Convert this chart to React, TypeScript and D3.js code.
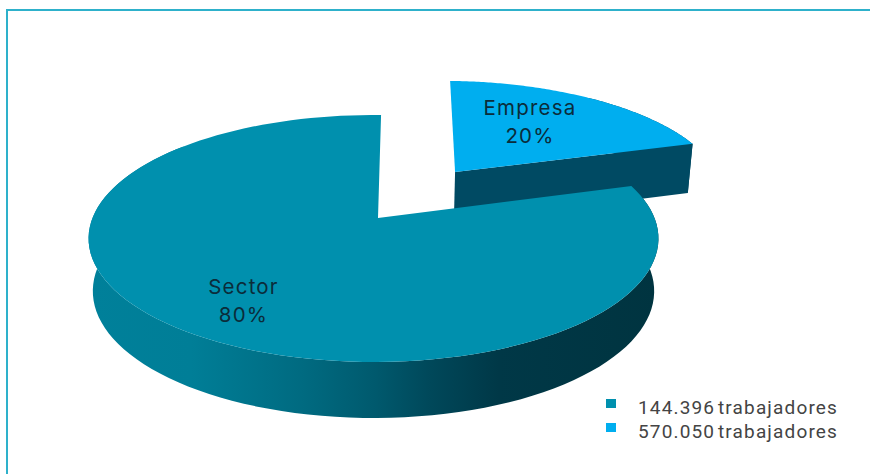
import React from "react";
import * as d3 from "d3";

const categories = ["Empresa", "Sector"];
const shares = [20, 80];
const legendLabels = ["144.396 trabajadores", "570.050 trabajadores"];
const legendColors = ["#0090ae", "#00aeef"];
const topColors = ["#00aeef", "#0090ae"];
const wallColor = "#004a63";
const wallStops: [number, string][] = [
  [0, "#00809a"], [0.18, "#007e97"], [0.38, "#006a80"], [0.5, "#005a6e"],
  [0.6, "#00485a"], [0.72, "#003847"], [1, "#003440"],
];
const labelPos = [[530, 115], [243.5, 294]];

const W = 870, H = 474;
// Perspective projection of the unit pie disc onto the page
const CX = 373.5, D = 281, C = -0.166, A = 83.9, B = 218;
const project = (x: number, v: number, z = 0) => {
  const den = C * v + 1;
  const depth = z * (51.9 + 4.1 * v);
  const shrink = 1 - 0.015 * z;
  return [CX + (D * x * shrink) / den, (A * v + B) / den + depth] as [number, number];
};
const OFFSET = 1.8 * Math.PI / 180;
const pieGen = d3.pie<number>().sort(null).startAngle(OFFSET).endAngle(OFFSET + 2 * Math.PI);
const arcs = pieGen(shares);
const line = d3.line();

const rim = (a0: number, a1: number, ex: number, ev: number, z: number) =>
  d3.range(0, 121).map((i) => {
    const a = a0 + ((a1 - a0) * i) / 120;
    return project(Math.sin(a) + ex, -Math.cos(a) + ev, z);
  });

// exploded offset of each rim, apex offset and the part of the rim whose wall shows
const explode = [[0.305, -0.409], [0, 0]];
const apexShift = [0.005, 0.016];
const wallRange = [[60, 121], [0, 100]];

export default function App() {
  return (
    <svg width={W} height={H} style={{ position: "absolute", left: 0, top: 0, background: "#fff" }}>
      <defs>
        <linearGradient id="wall" gradientUnits="userSpaceOnUse" x1={89} x2={658} y1={0} y2={0}>
          {wallStops.map(([o, c]) => <stop key={o} offset={o} stopColor={c} />)}
        </linearGradient>
      </defs>
      <path d={`M7,${H}V10H${W}`} fill="none" stroke="#2eb1cb" strokeWidth={2} />
      {arcs.map((d, i) => {
        const [ex, ev] = explode[i];
        const top = rim(d.startAngle, d.endAngle, ex, ev, 0);
        const bottom = rim(d.startAngle, d.endAngle, ex, ev, 1);
        const apex = project(ex + apexShift[i], ev, 0);
        const apexB = project(ex + apexShift[i], ev, 1);
        const [r0, r1] = wallRange[i];
        const wall = line([...top.slice(r0, r1), ...bottom.slice(r0, r1).reverse()]) + "Z";
        const fill = i === 1 ? "url(#wall)" : wallColor;
        return (
          <g key={categories[i]}>
            <path d={wall} fill={fill} />
            {i === 0 && <path d={line([apex, top[top.length - 1], bottom[bottom.length - 1], apexB]) + "Z"} fill={fill} />}
            <path d={line([apex, ...top]) + "Z"} fill={topColors[i]} />
          </g>
        );
      })}
      {categories.map((c, i) => (
        <text key={c} textAnchor="middle" fontFamily="Inter, sans-serif" fontWeight={400} fontSize={20.5} letterSpacing={1.2} fill="#0b2c3a">
          <tspan x={labelPos[i][0]} y={labelPos[i][1]}>{c}</tspan>
          <tspan x={labelPos[i][0]} y={labelPos[i][1] + 27.5}>{shares[i]}%</tspan>
        </text>
      ))}
      {legendLabels.map((l, i) => (
        <g key={l}>
          <rect x={606} y={399 + i * 24} width={10} height={9} fill={legendColors[i]} />
          <text x={638} y={414 + i * 24} fontFamily="Roboto, sans-serif" fontSize={19} letterSpacing={1.15} wordSpacing={-3} fill="#444">{l}</text>
        </g>
      ))}
    </svg>
  );
}
